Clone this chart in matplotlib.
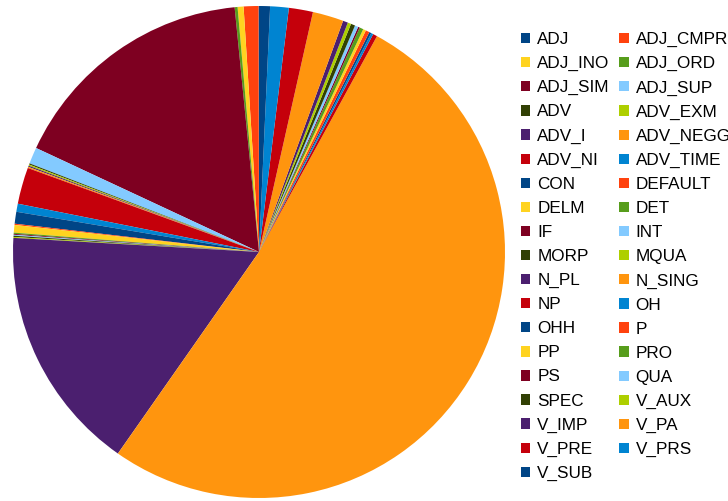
import matplotlib
matplotlib.use("Agg")
import matplotlib.pyplot as plt
from matplotlib.patches import Patch

plt.rcParams['font.family'] = ['Liberation Sans', 'DejaVu Sans']

# categories (legend order, pie goes counter-clockwise from 12 o'clock)
labels = ['ADJ', 'ADJ_CMPR', 'ADJ_INO', 'ADJ_ORD', 'ADJ_SIM', 'ADJ_SUP',
          'ADV', 'ADV_EXM', 'ADV_I', 'ADV_NEGG', 'ADV_NI', 'ADV_TIME',
          'CON', 'DEFAULT', 'DELM', 'DET', 'IF', 'INT', 'MORP', 'MQUA',
          'N_PL', 'N_SING', 'NP', 'OH', 'OHH', 'P', 'PP', 'PRO', 'PS',
          'QUA', 'SPEC', 'V_AUX', 'V_IMP', 'V_PA', 'V_PRE', 'V_PRS', 'V_SUB']

# share in percent
values = [0.03, 0.97, 0.39, 0.19, 16.47, 1.08,
          0.08, 0.08, 0.08, 0.08, 2.40, 0.53,
          0.78, 0.08, 0.50, 0.08, 0.06, 0.06, 0.08, 0.06,
          16.19, 51.75, 0.28, 0.14, 0.14, 0.25, 0.19, 0.25, 0.11,
          0.22, 0.28, 0.22, 0.33, 2.03, 1.58, 1.22, 0.72]

palette = ['#004586', '#ff420e', '#ffd320', '#579d1c', '#7e0021', '#83caff',
           '#314004', '#aecf00', '#4b1f6f', '#ff950e', '#c5000b', '#0084d1']
colors = [palette[i % len(palette)] for i in range(len(labels))]

fig = plt.figure(figsize=(7.28, 5.01), dpi=100)
ax = fig.add_axes([13 / 728, 3 / 501, 492 / 728, 492 / 501])
ax.pie(values, colors=colors, startangle=90, counterclock=True,
       wedgeprops=dict(linewidth=0))
ax.set_xlim(-1, 1)
ax.set_ylim(-1, 1)
ax.axis('off')

handles = [Patch(facecolor=c, edgecolor='none', label=l)
           for c, l in zip(colors, labels)]
# legend fills by rows in the reference, matplotlib fills by columns
order = list(range(0, len(labels), 2)) + list(range(1, len(labels), 2))
fig.legend([handles[i] for i in order], [labels[i] for i in order],
           ncol=2, loc='upper left', bbox_to_anchor=(521 / 728, 1 - 32 / 501),
           frameon=False, fontsize=12.3, handlelength=0.55, handleheight=0.55,
           handletextpad=0.4, columnspacing=0.57, labelspacing=0.53,
           borderpad=0, borderaxespad=0)

fig.savefig('out.png', dpi=100)
